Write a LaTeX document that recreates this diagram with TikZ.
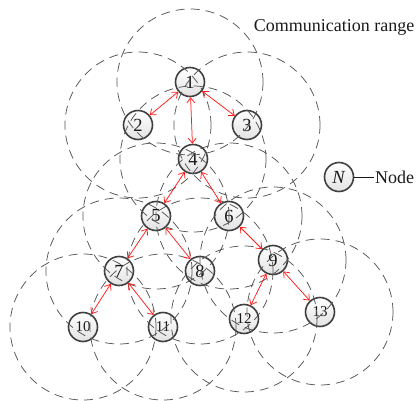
\documentclass[tikz,border=0pt]{standalone}
\usepackage{fontspec}
\setmainfont{Liberation Serif}
\usetikzlibrary{arrows.meta}
\definecolor{ink}{HTML}{1A1A1A}
\definecolor{rim}{HTML}{404040}
\definecolor{range}{HTML}{555555}
\definecolor{link}{HTML}{FF1A1A}
\tikzset{
  sensor/.style={circle,draw=rim,line width=1.6pt,top color=white,bottom color=gray!22,
    minimum size=29pt,inner sep=0pt,text=ink,font=\fontsize{18.5}{18.5}\selectfont},
  sensor2/.style={sensor,font=\fontsize{15}{15}\selectfont},
  commrange/.style={draw=range,line width=0.75pt,dash pattern=on 9pt off 6pt},
  hop/.style={{Straight Barb[length=5pt,width=8pt]}-{Straight Barb[length=5pt,width=8pt]},draw=link,line width=0.75pt},
  label/.style={font=\fontsize{18}{18}\selectfont,text=ink,inner sep=1pt},
}

\begin{document}
\begin{tikzpicture}[x=1pt,y=-1pt]
\useasboundingbox (0,0) rectangle (416,401);

% sensor nodes ------------------------------------------------------------------
\node[sensor]  (1)  at (190,82)  {1};
\node[sensor]  (2)  at (138,125) {2};
\node[sensor]  (3)  at (247,125) {3};
\node[sensor]  (4)  at (193,159) {4};
\node[sensor]  (5)  at (156,216) {5};
\node[sensor]  (6)  at (229,216) {6};
\node[sensor]  (7)  at (119,271) {7};
\node[sensor]  (8)  at (200,271) {8};
\node[sensor]  (9)  at (273,260) {9};
\node[sensor2] (10) at (83,327)  {10};
\node[sensor2] (11) at (163,327) {11};
\node[sensor2] (12) at (244,319) {12};
\node[sensor2] (13) at (320,312) {13};

% communication range of every node ---------------------------------------------
\foreach \n in {1,...,13}
  \draw[commrange] (\n.center) circle[radius=73pt];

% links between neighbours --------------------------------------------------------
\foreach \a/\b in {1/2,1/3,1/4,4/5,4/6,5/7,5/8,6/9,7/10,7/11,9/12,9/13}
  \draw[hop] (\a) -- (\b);

% legend --------------------------------------------------------------------------
\node[label,anchor=east,inner sep=0pt] (rangetxt) at (414.5,27) {Communication range};
\node[sensor] (leg) at (339,177) {\textit{N}};
\node[label,anchor=west] (legtxt) at (374,177) {Node};
\draw[draw=ink,line width=0.8pt] (leg) -- (legtxt);

\end{tikzpicture}
\end{document}
